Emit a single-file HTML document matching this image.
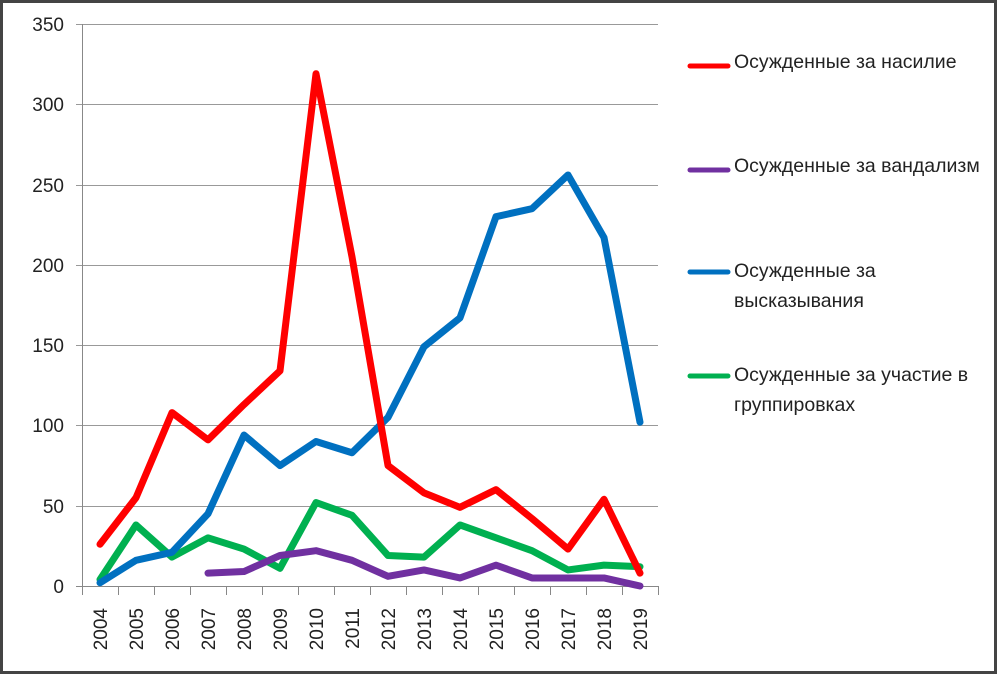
<!DOCTYPE html>
<html><head><meta charset="utf-8"><style>
body{margin:0;background:#fff}
svg{display:block}
text{font-family:"Liberation Sans",sans-serif;fill:#222}
</style></head><body>
<svg width="997" height="674" xmlns="http://www.w3.org/2000/svg">
<rect x="1.5" y="1.5" width="994" height="671" fill="#fff" stroke="#444" stroke-width="3"/>
<g stroke="#999" stroke-width="1">
<line x1="76" y1="24.5" x2="658" y2="24.5"/>
<line x1="76" y1="104.5" x2="658" y2="104.5"/>
<line x1="76" y1="185.5" x2="658" y2="185.5"/>
<line x1="76" y1="265.5" x2="658" y2="265.5"/>
<line x1="76" y1="345.5" x2="658" y2="345.5"/>
<line x1="76" y1="425.5" x2="658" y2="425.5"/>
<line x1="76" y1="506.5" x2="658" y2="506.5"/>
<line x1="76" y1="586.5" x2="658" y2="586.5" stroke="#888"/>
<line x1="82.5" y1="24" x2="82.5" y2="595" stroke="#888"/>
</g>
<g stroke="#888" id="ticks"></g>
<g font-size="19" text-anchor="end" font-weight="300" style="fill:#333">
<text x="64" y="31">350</text><text x="64" y="111">300</text><text x="64" y="192">250</text>
<text x="64" y="272">200</text><text x="64" y="352">150</text><text x="64" y="432">100</text>
<text x="64" y="513">50</text><text x="64" y="593">0</text>
</g>
<g id="xl" font-size="19" text-anchor="end"></g>
<g id="lines" fill="none" stroke-width="7" stroke-linejoin="round" stroke-linecap="round"></g>
<g stroke-width="5" stroke-linecap="round">
<line x1="690" y1="66" x2="728" y2="66" stroke="#f00"/>
<line x1="690" y1="170" x2="728" y2="170" stroke="#7030a0"/>
<line x1="690" y1="272" x2="728" y2="272" stroke="#0070c0"/>
<line x1="690" y1="376" x2="728" y2="376" stroke="#00b050"/>
</g>
<g font-size="19.5">
<text x="734" y="68">Осужденные за насилие</text>
<text x="734" y="172">Осужденные за вандализм</text>
<text x="734" y="277">Осужденные за</text>
<text x="734" y="307">высказывания</text>
<text x="734" y="381">Осужденные за участие в</text>
<text x="734" y="411">группировках</text>
</g>
</svg>
<script>
const ns="http://www.w3.org/2000/svg";
const X=i=>100+36*i, Y=v=>586-v*1.6057;
const t=document.getElementById("ticks"),xl=document.getElementById("xl"),L=document.getElementById("lines");
for(let i=0;i<=16;i++){const l=document.createElementNS(ns,"line");l.setAttribute("x1",82.5+36*i);l.setAttribute("x2",82.5+36*i);l.setAttribute("y1",586);l.setAttribute("y2",595);t.appendChild(l);}
for(let i=0;i<16;i++){const e=document.createElementNS(ns,"text");const x=X(i)+7;e.setAttribute("transform",`translate(${x},608) rotate(-90)`);e.textContent=2004+i;xl.appendChild(e);}
const S=[
["#00b050",[4,38,18,30,23,11,52,44,19,18,38,30,22,10,13,12],0],
["#7030a0",[8,9,19,22,16,6,10,5,13,5,5,5,0],3],
["#0070c0",[2,16,21,45,94,75,90,83,105,149,167,230,235,256,217,102],0],
["#f00",[26,55,108,91,113,134,319,205,75,58,49,60,42,23,54,8],0]];
for(const [c,d,o] of S){const p=document.createElementNS(ns,"polyline");p.setAttribute("points",d.map((v,i)=>X(i+o)+","+Y(v)).join(" "));p.setAttribute("stroke",c);L.appendChild(p);}
</script>
</body></html>
